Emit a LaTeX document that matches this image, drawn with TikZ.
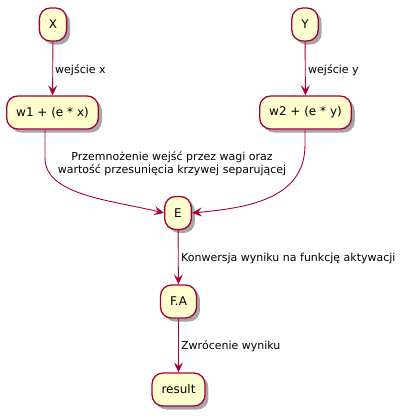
\documentclass[tikz,border=0pt]{standalone}
\usepackage{fontspec}
\setmainfont{DejaVu Sans}
\usetikzlibrary{shadows,arrows.meta}
\definecolor{pfill}{HTML}{FEFECE}
\definecolor{pline}{HTML}{A80036}
\tikzset{
  statebox/.style={draw=pline, fill=pfill, line width=1.3pt, rounded corners=11pt,
    minimum height=33pt, inner xsep=9.5pt, inner ysep=0pt, font=\fontsize{12pt}{14pt}\selectfont,
    drop shadow={shadow xshift=3.5pt, shadow yshift=-3.5pt, opacity=0.35, fill=black}},
  conn/.style={draw=pline, line width=0.9pt, -{Stealth[length=10pt,width=9pt,inset=4pt]}},
  lbl/.style={font=\fontsize{11pt}{13pt}\selectfont, text=black, inner sep=0pt},
}
\begin{document}
\begin{tikzpicture}[x=1pt,y=-1pt]
\useasboundingbox (0,0) rectangle (408,416);
\node[statebox] (X) at (53,24.5) {X};
\node[statebox] (Y) at (305,24.5) {Y};
\node[statebox] (w1) at (52.5,112.5) {w1 + (e * x)};
\node[statebox] (w2) at (305.5,112.5) {w2 + (e * y)};
\node[statebox] (E) at (178,213) {E};
\node[statebox] (FA) at (178.5,301.5) {F.A};
\node[statebox] (R) at (178.5,389.5) {result};
\coordinate (w1o) at (45,129);
\coordinate (w2o) at (305,129);

\draw[conn] (X) -- (w1);
\node[lbl, anchor=west] (lx) at (55,70) {wejście x};
\draw[conn] (Y) -- (w2);
\node[lbl, anchor=west] (ly) at (308,70) {wejście y};

\draw[conn] (w1.south -| w1o) -- (45,158) .. controls (45,195) and (110,200) .. (E.west);
\draw[conn] (w2.south -| w2o) -- (305,145) .. controls (305,200) and (245,208) .. (E.east);
\node[lbl, align=center] (lm) at (172,163.5) {Przemnożenie wejść przez wagi oraz\\wartość przesunięcia krzywej separującej};

\draw[conn] (E) -- (FA);
\node[lbl, anchor=west] (lk) at (181,258) {Konwersja wyniku na funkcję aktywacji};
\draw[conn] (FA) -- (R);
\node[lbl, anchor=west] (lz) at (181,346) {Zwrócenie wyniku};
\end{tikzpicture}
\end{document}
